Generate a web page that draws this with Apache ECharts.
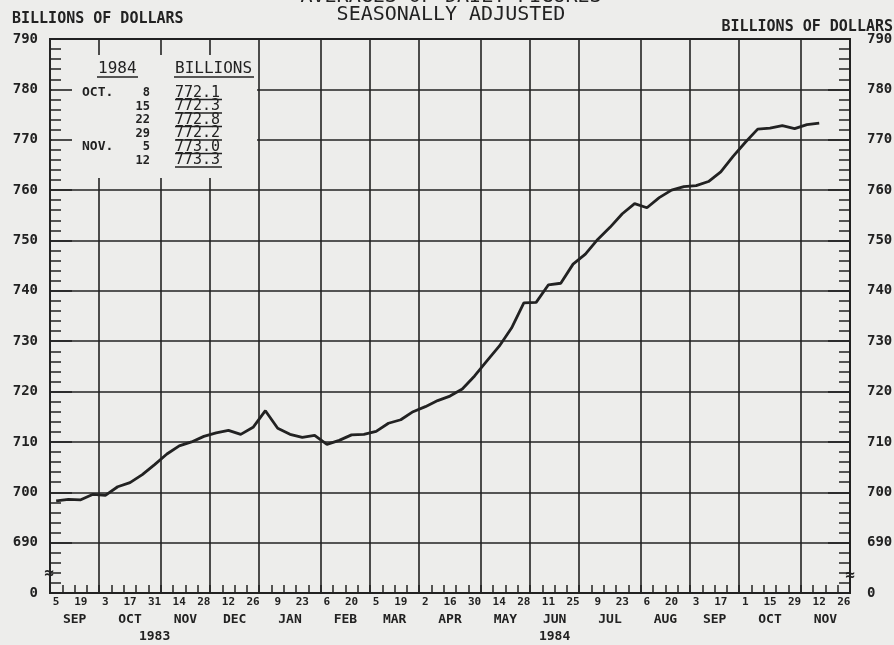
<!DOCTYPE html>
<html>
<head>
<meta charset="utf-8">
<script src="https://cdn.jsdelivr.net/npm/echarts@6/dist/echarts.min.js"></script>
<style>
html, body { margin: 0; padding: 0; background: #ededeb; }
#chart { width: 894px; height: 645px; }
</style>
</head>
<body>
<div id="chart"></div>
<script>
// weeks from Sep 5 1983 to Nov 26 1984 (day of month of each week)
const weekDays = [
  '5', '12', '19', '26',
  '3', '10', '17', '24', '31',
  '7', '14', '21', '28',
  '5', '12', '19', '26',
  '2', '9', '16', '23', '30',
  '6', '13', '20', '27',
  '5', '12', '19', '26',
  '2', '9', '16', '23', '30',
  '7', '14', '21', '28',
  '4', '11', '18', '25',
  '2', '9', '16', '23', '30',
  '6', '13', '20', '27',
  '3', '10', '17', '24',
  '1', '8', '15', '22', '29',
  '5', '12', '19', '26'
]
const monthNames = ['SEP', 'OCT', 'NOV', 'DEC', 'JAN', 'FEB', 'MAR', 'APR', 'MAY', 'JUN', 'JUL', 'AUG', 'SEP', 'OCT', 'NOV']
const monthWeeks = [4, 5, 4, 4, 5, 4, 4, 5, 4, 4, 5, 4, 4, 5, 4]
const yearNames = ['1983', '1984']
const yearWeeks = [17, 48]

// weekly averages, billions of dollars
const moneyStock = [
  698.3, 698.6, 698.5, 699.6,
  699.4, 701.1, 701.9, 703.5, 705.5,
  707.6, 709.2, 710.0, 711.1,
  711.8, 712.3, 711.5, 712.9,
  716.2, 712.7, 711.5, 710.9, 711.3,
  709.5, 710.3, 711.4, 711.5,
  712.1, 713.7, 714.4, 716.0,
  717.0, 718.2, 719.1, 720.5, 723.1,
  726.1, 729.0, 732.6, 737.6,
  737.7, 741.2, 741.5, 745.3,
  747.3, 750.2, 752.6, 755.3, 757.3,
  756.5, 758.5, 760.0, 760.7,
  760.9, 761.7, 763.6, 766.7,
  769.5, 772.1, 772.3, 772.8, 772.2,
  773.0, 773.3
]

// inset table
const tableMonths = ['OCT.', '', '', '', 'NOV.', '']
const tableDays = ['8', '15', '22', '29', '5', '12']
const tableValues = ['772.1', '772.3', '772.8', '772.2', '773.0', '773.3']

const ink = '#222222'
const mono = "'DejaVu Sans Mono', monospace"

const monthStarts = []
let acc = 0
monthWeeks.forEach(w => { monthStarts.push(acc); acc += w })
const monthCenters = monthWeeks.map((w, i) => monthStarts[i] + w / 2)
const yearCenters = []
acc = 0
yearWeeks.forEach(w => { yearCenters.push(acc + w / 2); acc += w })

const gridLine = { color: ink, width: 1.6 }
const labelFont = { color: ink, fontFamily: mono, fontWeight: 'bold' }

function txt(text, x, y, size, align, weight) {
  return {
    type: 'text', x: x, y: y, z: 6,
    style: {
      text: text, fill: ink, fontSize: size, fontFamily: mono, fontWeight: weight || 'normal',
      align: align, verticalAlign: 'middle', textAlign: align, textVerticalAlign: 'middle'
    }
  }
}
function rule(x1, x2, y) {
  return { type: 'line', z: 6, shape: { x1: x1, y1: y, x2: x2, y2: y }, style: { stroke: ink, lineWidth: 1.3 } }
}

const graphics = [
  // blank area behind the inset table
  { type: 'rect', z: 1, shape: { x: 51.5, y: 55, width: 205.5, height: 123 }, style: { fill: '#ededeb' } },
  txt('AVERAGES OF DAILY FIGURES', 451, -3, 20, 'center'),
  txt('SEASONALLY ADJUSTED', 451, 15, 20, 'center'),
  txt('BILLIONS OF DOLLARS', 12, 19, 15, 'left', 'bold'),
  txt('BILLIONS OF DOLLARS', 893, 27, 15, 'right', 'bold'),
  txt('1984', 98, 69, 16, 'left'),
  rule(97, 138, 77),
  txt('BILLIONS', 175, 69, 16, 'left'),
  rule(174, 254, 77),
  txt('\u2248', 49, 574, 16, 'center', 'bold'),
  txt('\u2248', 850, 576, 16, 'center', 'bold')
]
tableValues.forEach((v, i) => {
  const y = 93 + i * 13.5
  if (tableMonths[i]) graphics.push(txt(tableMonths[i], 82, y, 13, 'left', 'bold'))
  graphics.push(txt(tableDays[i], 150, y, 12, 'right', 'bold'))
  graphics.push(txt(v, 175, y, 15, 'left'))
  graphics.push(rule(175, 222, y + 6.5))
})

const chart = echarts.init(document.getElementById('chart'))
chart.setOption({
  backgroundColor: '#ededeb',
  animation: false,
  grid: {
    left: 50, right: 44, top: 39, bottom: 52,
    show: true, borderColor: ink, borderWidth: 1.8,
    outerBoundsMode: 'none'
  },
  xAxis: [
    {
      // month grid lines
      type: 'category', data: weekDays, position: 'bottom', z: 0,
      axisLine: { show: false }, axisTick: { show: false }, axisLabel: { show: false },
      splitLine: { show: true, interval: (i) => i > 0 && monthStarts.indexOf(i) >= 0, lineStyle: gridLine }
    },
    {
      // weekly ticks and day labels
      type: 'category', data: weekDays, position: 'bottom', z: 5,
      axisLine: { show: true, lineStyle: { color: ink, width: 1.8 } },
      axisTick: { show: true, inside: true, length: 8, interval: 0, lineStyle: { color: ink, width: 1.5 } },
      axisLabel: Object.assign({ interval: 1, margin: 4, fontSize: 11 }, labelFont),
      splitLine: { show: false }
    },
    {
      type: 'value', min: 0, max: 65, position: 'bottom', z: 5,
      axisLine: { show: false }, axisTick: { show: false }, splitLine: { show: false },
      axisLabel: Object.assign({
        customValues: monthCenters, margin: 20, fontSize: 13,
        formatter: v => monthNames[monthCenters.indexOf(v)]
      }, labelFont)
    },
    {
      type: 'value', min: 0, max: 65, position: 'bottom', z: 5,
      axisLine: { show: false }, axisTick: { show: false }, splitLine: { show: false },
      axisLabel: Object.assign({
        customValues: yearCenters, margin: 37, fontSize: 13,
        formatter: v => yearNames[yearCenters.indexOf(v)]
      }, labelFont)
    }
  ],
  yAxis: [
    {
      // horizontal grid lines
      type: 'value', min: 680, max: 790, interval: 10, position: 'left', z: 0,
      axisLine: { show: false }, axisTick: { show: false }, axisLabel: { show: false },
      splitLine: { show: true, lineStyle: gridLine }
    },
    {
      type: 'value', min: 680, max: 790, interval: 10, position: 'left', z: 5,
      axisLine: { show: true, lineStyle: { color: ink, width: 1.8 } },
      axisTick: { show: true, inside: true, length: 22, lineStyle: { color: ink, width: 1.6 } },
      minorTick: { show: true, splitNumber: 5, length: 11, lineStyle: { color: ink, width: 1.5 } },
      axisLabel: Object.assign({ margin: 12, fontSize: 14, formatter: v => v === 680 ? '0' : v }, labelFont),
      splitLine: { show: false }
    },
    {
      type: 'value', min: 680, max: 790, interval: 10, position: 'right', z: 5,
      axisLine: { show: true, lineStyle: { color: ink, width: 1.8 } },
      axisTick: { show: true, inside: true, length: 22, lineStyle: { color: ink, width: 1.6 } },
      minorTick: { show: true, splitNumber: 5, length: 11, lineStyle: { color: ink, width: 1.5 } },
      axisLabel: Object.assign({ margin: 17, fontSize: 14, padding: [10, 0, 0, 0], formatter: v => v === 680 ? '0' : v }, labelFont),
      splitLine: { show: false }
    }
  ],
  graphic: graphics,
  series: [
    {
      type: 'line', xAxisIndex: 1, yAxisIndex: 1, z: 10,
      data: moneyStock,
      showSymbol: false,
      lineStyle: { color: ink, width: 2.8 }
    }
  ]
})
</script>
</body>
</html>
